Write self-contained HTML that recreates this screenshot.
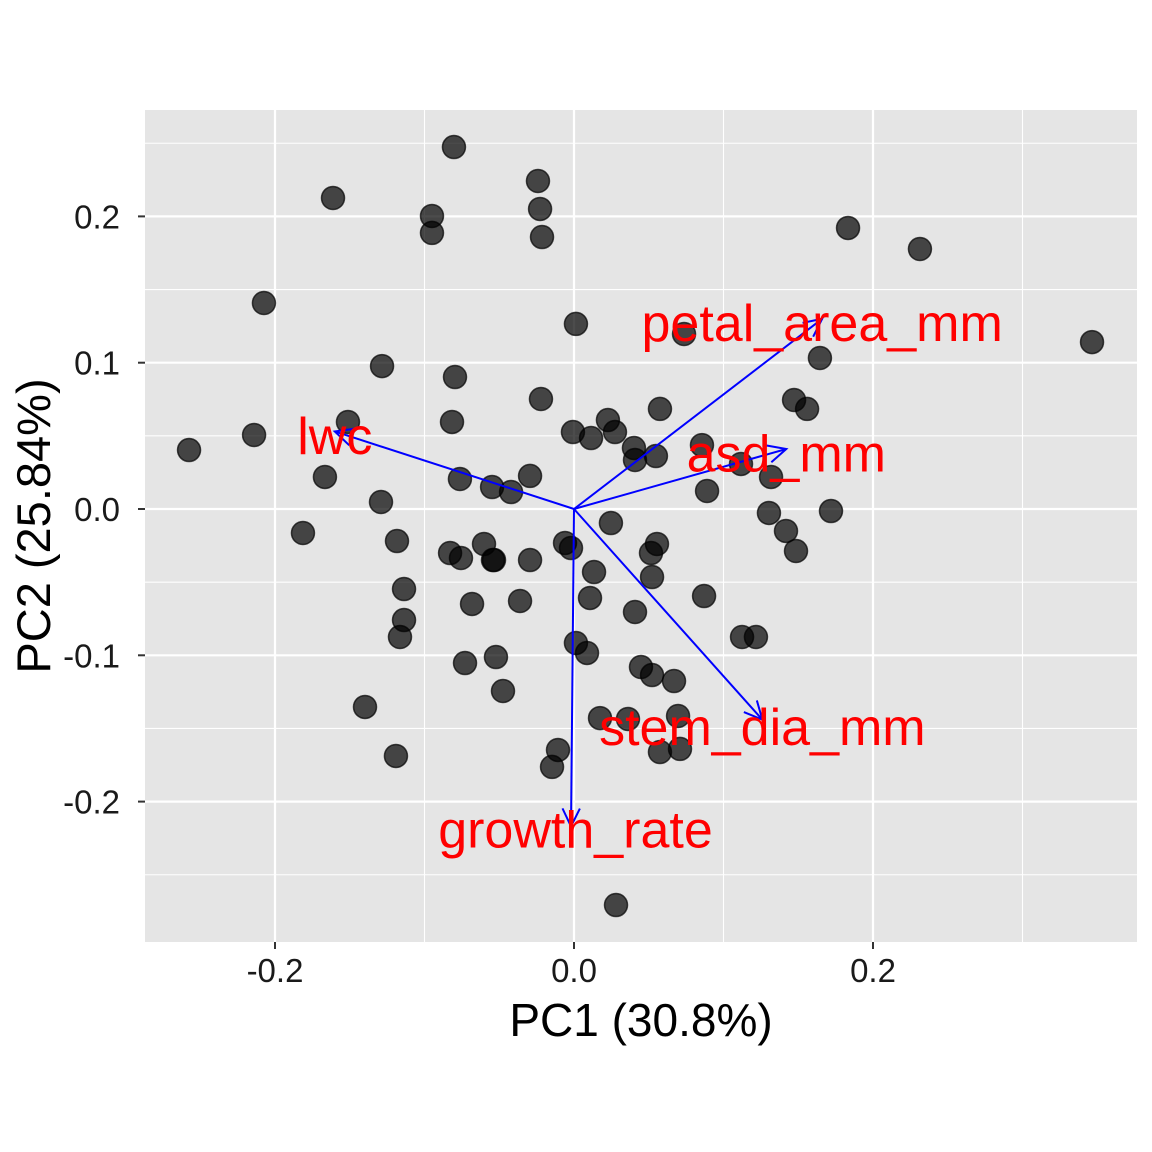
<!DOCTYPE html>
<html><head><meta charset="utf-8"><style>
html,body{margin:0;padding:0;background:#fff;}
svg{display:block;font-family:"Liberation Sans",Arial,sans-serif;}
</style></head><body>
<svg id="chart" width="1152" height="1152" xmlns="http://www.w3.org/2000/svg">
<rect x="145" y="110" width="992" height="832" fill="#e5e5e5"/>
<g id="grid"></g><g id="pts"></g><g id="arrows"></g><g id="axes"></g>
<text x="641" y="1036" font-size="46" text-anchor="middle" fill="#000">PC1 (30.8%)</text>
<text transform="translate(50,526) rotate(-90)" font-size="47" text-anchor="middle" fill="#000">PC2 (25.84%)</text>
</svg>
<script>
const xTicks=[-0.2,0.0,0.2];
const xTickLabels=["-0.2","0.0","0.2"];
const yTicks=[0.2,0.1,0.0,-0.1,-0.2];
const yTickLabels=["0.2","0.1","0.0","-0.1","-0.2"];
const xMinor=[-0.1,0.1,0.3];
const yMinor=[0.25,0.15,0.05,-0.05,-0.15,-0.25];
const pointsPx=[[454,147],[333,198],[538,181],[540,209],[542,237],[432,216],[432,233],[848,228],[920,249],[264,303],[576,324],[684,334],[820,358],[1092,342],[382,366],[455,377],[541,399],[348,422],[452,422],[608,420],[254,435],[189,450],[573,432],[591,438],[615,432],[634,448],[660,409],[794,400],[807,409],[656,456],[635,460],[702,445],[741,464],[771,477],[707,491],[325,477],[460,479],[492,487],[511,492],[530,476],[381,502],[769,513],[831,511],[303,533],[397,541],[611,523],[786,531],[796,551],[565,543],[571,548],[484,544],[450,553],[461,558],[493,560],[494,560],[530,560],[657,544],[651,553],[594,572],[652,577],[404,589],[590,598],[520,601],[472,604],[635,612],[704,596],[404,620],[400,637],[576,643],[587,653],[742,637],[756,637],[465,663],[496,657],[641,667],[652,675],[674,681],[503,691],[365,707],[600,718],[628,719],[678,716],[680,749],[660,752],[396,756],[558,750],[552,767],[616,905]];
const pcx=pointsPx.map(p=>+((p[0]-574)/1495).toFixed(4));
const pcy=pointsPx.map(p=>+((509-p[1])/1463).toFixed(4));
const loadNames=["lwc","petal_area_mm","asd_mm","stem_dia_mm","growth_rate"];
const loadX=[-0.160,0.166,0.142,0.126,-0.002];
const loadY=[0.053,0.130,0.041,-0.144,-0.217];
const labelX=[-0.160,0.166,0.142,0.126,0.001];
const labelY=[0.050,0.127,0.038,-0.149,-0.219];

const X=v=>574+v*1495, Y=v=>509-v*1463;
const NS="http://www.w3.org/2000/svg";
function mk(tag,attrs,parent){const e=document.createElementNS(NS,tag);for(const k in attrs)e.setAttribute(k,attrs[k]);parent.appendChild(e);return e;}
const grid=document.getElementById('grid');
xMinor.forEach(v=>{const l=mk('line',{x1:X(v),x2:X(v),y1:110,y2:942,stroke:'#fff','stroke-width':1.1},grid);

});
yMinor.forEach(v=>{const l=mk('line',{x1:145,x2:1137,y1:Y(v),y2:Y(v),stroke:'#fff','stroke-width':1.1},grid);

});
xTicks.forEach(v=>{const l=mk('line',{x1:X(v),x2:X(v),y1:110,y2:942,stroke:'#fff','stroke-width':2.2},grid);

});
yTicks.forEach(v=>{const l=mk('line',{x1:145,x2:1137,y1:Y(v),y2:Y(v),stroke:'#fff','stroke-width':2.2},grid);

});
const axes=document.getElementById('axes');
xTicks.forEach((v,i)=>{const t=mk('line',{x1:X(v),x2:X(v),y1:942,y2:949,stroke:'#333','stroke-width':2},axes);


const s=mk('text',{x:X(v),y:982,'font-size':33,'text-anchor':'middle',fill:'#1a1a1a'},axes);s.textContent=xTickLabels[i];

});
yTicks.forEach((v,i)=>{const t=mk('line',{x1:138,x2:145,y1:Y(v),y2:Y(v),stroke:'#333','stroke-width':2},axes);


const s=mk('text',{x:120,y:Y(v)+12,'font-size':33,'text-anchor':'end',fill:'#1a1a1a'},axes);s.textContent=yTickLabels[i];

});
const pts=document.getElementById('pts');
pcx.forEach((v,i)=>{const c=mk('circle',{cx:X(v),cy:Y(pcy[i]),r:11.5,fill:'#000','fill-opacity':0.7,stroke:'#000','stroke-opacity':0.7,'stroke-width':1.5},pts);

});
const ar=document.getElementById('arrows');
loadNames.forEach((n,i)=>{const x1=X(0),y1=Y(0),x2=X(loadX[i]),y2=Y(loadY[i]);
const l=mk('line',{x1,y1,x2,y2,stroke:'#0000ff','stroke-width':2},ar);


const a=Math.atan2(y2-y1,x2-x1),h=20,w=0.45;
const p=`${x2-h*Math.cos(a-w)},${y2-h*Math.sin(a-w)} ${x2},${y2} ${x2-h*Math.cos(a+w)},${y2-h*Math.sin(a+w)}`;
const hd=mk('polyline',{points:p,fill:'none',stroke:'#0000ff','stroke-width':2},ar);

});
loadNames.forEach((n,i)=>{const t=mk('text',{x:X(labelX[i]),y:Y(labelY[i])+18,'font-size':52,'text-anchor':'middle',fill:'#ff0000'},ar);t.textContent=n;

});
</script>
</body></html>
